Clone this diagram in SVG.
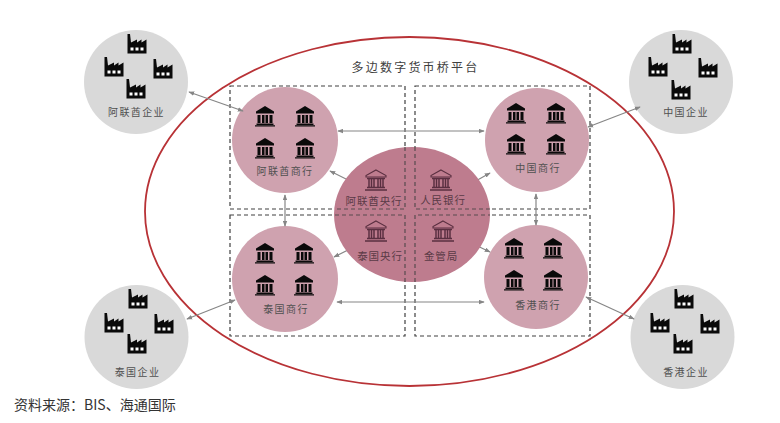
<svg xmlns="http://www.w3.org/2000/svg" width="780" height="423" viewBox="0 0 780 423">
<style>
text{font-family:"Noto Sans CJK SC","Liberation Sans",sans-serif;text-anchor:middle}
.g{fill:#d9d9d9}.p{fill:#cfa2af}
.box{fill:none;stroke:#404040;stroke-width:1.2;stroke-dasharray:4 3}
.ar{fill:none;stroke:#868686;stroke-width:1.2;marker-start:url(#a);marker-end:url(#a)}
.l{font-size:10px;letter-spacing:1.4px;fill:#505050}
.c{font-size:10.5px;letter-spacing:.9px;fill:#5a3a46}
</style>
<defs>
<marker id="a" viewBox="0 0 8 6" refX="7" refY="3" markerWidth="6" markerHeight="5" markerUnits="userSpaceOnUse" orient="auto-start-reverse"><path d="M0 0L8 3L0 6Z" fill="#868686"/></marker>
<g id="f"><path d="M-9.5 9.5V-10H-7L-6 -1.5L0 -4.5V-1.5L4.500 -4.500V-1.500L9.500 -4.500V9.500Z" fill="#0a0a0a"/><path d="M-6.500 3.500h3v3h-3zM-1.500 3.500h3v3h-3zM3.500 3.500h3v3h-3z" fill="#fff"/></g>
<g id="b"><path d="M0 -10L9 -4.500V-2.500H-9V-4.500Z" fill="#0a0a0a"/><path d="M-7.500 -1h3v8h-3zM-3 -1h2.500v8h-2.500zM.5 -1h2.500v8h-2.500zM4.500 -1h3v8h-3zM-8.500 7.500h17v1.500h-17zM-10 9.200h20v1.300h-20z" fill="#0a0a0a"/></g>
<g id="o" fill="none" stroke="#5a2f40" stroke-width="1.1"><path d="M0 -10L10 -4.500V-3H-10V-4.500Z"/><path d="M-7 -1V7M-4.500 -1V7M-2 -1V7M2 -1V7M4.500 -1V7M7 -1V7" stroke-width="1.500"/><path d="M-9 -1.500H9M-9 7.500H9M-11 10H11" stroke-width="1.600"/></g>
</defs>
<rect width="780" height="423" fill="#fff"/>
<ellipse id="platform" cx="409.500" cy="211.500" rx="264.500" ry="174.500" fill="none" stroke="#b83236" stroke-width="1.800"/>
<text x="415.500" y="72" font-size="12" letter-spacing="2.200" fill="#404040">多边数字货币桥平台</text>
<g id="boxes">
<rect class="box" x="230" y="86" width="175" height="123"/>
<rect class="box" x="415" y="86" width="175" height="123"/>
<rect class="box" x="230" y="215" width="175" height="121"/>
<rect class="box" x="415" y="215" width="175" height="121"/>
</g>
<g id="n-ae-co"><circle class="g" cx="136" cy="82" r="52"/><use href="#f" x="137" y="44"/><use href="#f" x="114" y="67"/><use href="#f" x="163" y="69"/><use href="#f" x="136" y="89"/><text class="l" x="136.500" y="116">阿联酋企业</text></g>
<g id="n-cn-co"><circle class="g" cx="681" cy="82" r="52"/><use href="#f" x="682" y="44"/><use href="#f" x="658" y="67"/><use href="#f" x="708" y="68"/><use href="#f" x="681" y="90"/><text class="l" x="686" y="116">中国企业</text></g>
<g id="n-th-co"><circle class="g" cx="136.500" cy="337" r="52"/><use href="#f" x="138" y="299"/><use href="#f" x="114" y="323"/><use href="#f" x="164" y="324"/><use href="#f" x="137" y="344"/><text class="l" x="137.500" y="376">泰国企业</text></g>
<g id="n-hk-co"><circle class="g" cx="682.500" cy="337" r="52"/><use href="#f" x="684" y="299"/><use href="#f" x="660" y="323"/><use href="#f" x="710" y="324"/><use href="#f" x="683" y="344"/><text class="l" x="686" y="376">香港企业</text></g>
<g id="n-ae-bank"><circle class="p" cx="285" cy="140" r="53"/><use href="#b" x="265" y="116"/><use href="#b" x="305" y="116"/><use href="#b" x="265" y="148"/><use href="#b" x="305" y="148"/><text class="l" x="285" y="175">阿联酋商行</text></g>
<g id="n-cn-bank"><circle class="p" cx="537" cy="140" r="52"/><use href="#b" x="516" y="113"/><use href="#b" x="556" y="113"/><use href="#b" x="516" y="144"/><use href="#b" x="556" y="144"/><text class="l" x="538" y="172">中国商行</text></g>
<g id="n-th-bank"><circle class="p" cx="285" cy="279" r="53"/><use href="#b" x="265" y="253"/><use href="#b" x="304" y="253"/><use href="#b" x="265" y="285"/><use href="#b" x="304" y="285"/><text class="l" x="286" y="313">泰国商行</text></g>
<g id="n-hk-bank"><circle class="p" cx="536" cy="277" r="52"/><use href="#b" x="514" y="248"/><use href="#b" x="553" y="248"/><use href="#b" x="514" y="280"/><use href="#b" x="553" y="280"/><text class="l" x="538" y="309">香港商行</text></g>
<g id="connectors">
<path class="ar" d="M189 92L243 111"/>
<path class="ar" d="M640 107L588 127"/>
<path class="ar" d="M187 319L235 300"/>
<path class="ar" d="M586 297L634 319"/>
<path class="ar" d="M338 131H484"/>
<path class="ar" d="M337 302H484"/>
<path class="ar" d="M285 195V226"/>
<path class="ar" d="M536 194V225"/>
<path class="ar" d="M330 171L360 186"/>
<path class="ar" d="M490 173L465 187"/>
<path class="ar" d="M334 257L362 243"/>
<path class="ar" d="M490 252L465 240"/>
</g>
<g id="n-central"><ellipse cx="412" cy="214.500" rx="78" ry="67.500" fill="#be7c8e"/><use href="#o" x="376" y="180"/><use href="#o" x="441" y="180"/><use href="#o" x="376" y="231"/><use href="#o" x="443" y="231"/>
<text class="c" x="374" y="205">阿联酋央行</text><text class="c" x="443" y="204">人民银行</text><text class="c" x="380" y="260">泰国央行</text><text class="c" x="441" y="260">金管局</text></g>
<g id="boxes-over" opacity=".8">
<path class="box" d="M405 147V209H334M415 147V209H490M405 282V215H334M415 282V215H490"/>
</g>
<text x="14" y="410" font-size="14" fill="#333" style="text-anchor:start">资料来源：BIS、海通国际</text>
</svg>
